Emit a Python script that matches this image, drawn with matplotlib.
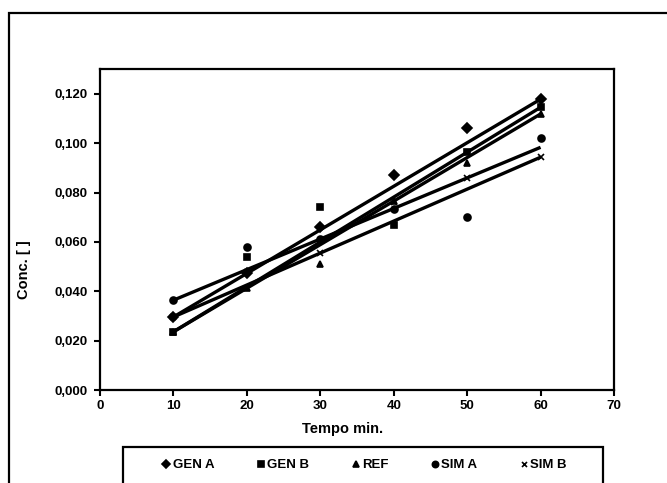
import matplotlib
matplotlib.use('Agg')
import matplotlib.pyplot as plt
from matplotlib.patches import Rectangle
from matplotlib.ticker import FuncFormatter, MultipleLocator

plt.rcParams['font.family'] = ['Liberation Sans', 'DejaVu Sans']
plt.rcParams['font.weight'] = 'bold'

tempo = [10, 20, 30, 40, 50, 60]
series = ['GEN A', 'GEN B', 'REF', 'SIM A', 'SIM B']
markers = ['D', 's', '^', 'o', 'x']

gen_a = [0.0296, 0.0472, 0.066, 0.087, 0.106, 0.1178]
gen_b = [0.0236, 0.054, 0.074, 0.067, 0.0963, 0.1145]
ref = [0.0236, 0.0412, 0.051, 0.0765, 0.092, 0.1118]
sim_a = [0.0364, 0.058, 0.061, 0.0735, 0.070, 0.102]
sim_b = [0.0296, 0.048, 0.0555, 0.076, 0.086, 0.0943]

trend_x = [10, 60]
trend_start = [0.0296, 0.0236, 0.0236, 0.0364, 0.0296]
trend_end = [0.1178, 0.1145, 0.1118, 0.0983, 0.0943]

values = [gen_a, gen_b, ref, sim_a, sim_b]

fig = plt.figure(figsize=(6.67, 4.83), dpi=100)
ax = fig.add_axes([0.150, 0.1925, 0.7705, 0.6645])

handles = []
for name, m, ys, y0, y1 in zip(series, markers, values, trend_start, trend_end):
    ax.plot(trend_x, [y0, y1], color='black', lw=2.4, solid_capstyle='butt', zorder=2)
    ms = 5 if m != 'x' else 4
    h, = ax.plot(tempo, ys, linestyle='none', marker=m, color='black',
                 markersize=ms, markeredgewidth=1.2, zorder=3, label=name)
    handles.append(h)

ax.set_xlim(0, 70)
ax.set_ylim(0, 0.130)
ax.xaxis.set_major_locator(MultipleLocator(10))
ax.yaxis.set_major_locator(MultipleLocator(0.02))
ax.yaxis.set_major_formatter(FuncFormatter(lambda v, p: ('%.3f' % v).replace('.', ',')))
ax.tick_params(direction='out', length=4, width=1.5, labelsize=9.5)
ax.tick_params(axis='y', pad=5)
for s in ax.spines.values():
    s.set_linewidth(1.6)

ax.set_xlabel('Tempo min.', fontsize=10.5, fontweight='bold')
ax.xaxis.set_label_coords((343 - 100) / 514, -0.10)
ax.set_ylabel('Conc. [ ]', fontsize=10.5, fontweight='bold')
ax.yaxis.set_label_coords(-0.135, (390 - 270) / 321)

# legend box drawn separately so the entries can sit centred in it
fig.patches.append(Rectangle((123 / 667, -0.01), 480 / 667, 36 / 483 + 0.01,
                             transform=fig.transFigure, fill=False,
                             edgecolor='black', linewidth=1.6))
fig.legend(handles=handles, loc='center', ncol=5,
           bbox_to_anchor=(364 / 667, 1 - 465 / 483),
           fontsize=9.5, frameon=False, borderaxespad=0,
           handletextpad=0.1, handlelength=0.8, columnspacing=3.1,
           markerscale=0.9)

fig.patches.append(Rectangle((9 / 667, -0.2), 1.2, 1.2 - 13 / 483,
                             transform=fig.transFigure, fill=False,
                             edgecolor='black', linewidth=1.6))

fig.savefig('out.png', dpi=100)
